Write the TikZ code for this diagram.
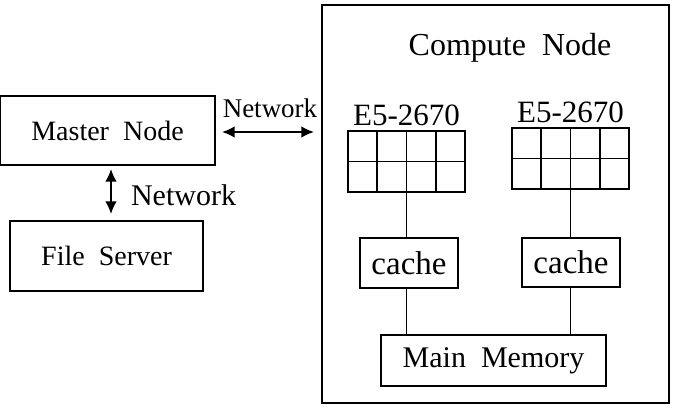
\documentclass[tikz,border=0pt]{standalone}
\usepackage{fontspec}
\setmainfont{Liberation Serif}
\usetikzlibrary{arrows.meta}
\begin{document}
\begin{tikzpicture}[x=0.5pt,y=-0.5pt,
  box/.style={draw,thick,inner sep=0pt},
  net/.style={{Latex[length=2.2mm,width=2mm]}-{Latex[length=2.2mm,width=2mm]},thick}]
\useasboundingbox (0,0) rectangle (676,411);
\draw[thick] (322,5) rectangle (669,403);
\node at (510,48) {\fontsize{16}{18}\selectfont Compute\ \ Node};
\node[box,minimum width=107.5pt,minimum height=34.5pt] (master) at (107.5,130.5) {\fontsize{14}{16}\selectfont Master\ \ Node};
\node[box,minimum width=96.5pt,minimum height=35pt] (fs) at (106.5,256) {\fontsize{14}{16}\selectfont File\ \ Server};
\coordinate (nl) at (222,132);
\coordinate (nr) at (314,132);
\draw[net] (nl) -- (nr);
\node at (270,108) {\fontsize{13.5}{15}\selectfont Network};
\draw[net] (111,169) coordinate (va) -- (111,214) coordinate (vb);
\node[anchor=west] at (124,195) {\fontsize{15}{17}\selectfont Network};
% processors
\foreach \x/\y/\n in {348/131/l,512/128/r} {
\begin{scope}[shift={(\x,\y)}]
\draw[thick] (0,0) rectangle (117,61);
\draw[thick] (0,30.5) -- (117,30.5);
\foreach \c in {1,2,3} \draw[thick] (\c*29.25,0) -- (\c*29.25,61);
\coordinate (cpu\n) at (58.5,61);
\node at (58.5,-16) {\fontsize{15.5}{17}\selectfont E5-2670};
\end{scope}
}
\node[box,minimum width=49pt,minimum height=25pt] (cachel) at (409,263) {\fontsize{16.5}{18}\selectfont cache};
\node[box,minimum width=49pt,minimum height=24.5pt] (cacher) at (571,262.5) {\fontsize{16.5}{18}\selectfont cache};
\node[box,minimum width=112.5pt,minimum height=25.5pt] (mem) at (493.5,360.5) {\fontsize{15}{17}\selectfont Main\ \ Memory};
\draw[thick] (cpul) -- (cpul |- cachel.north);
\draw[thick] (cpur) -- (cpur |- cacher.north);
\draw[thick] (cachel.south -| cpul) -- (cpul |- mem.north);
\draw[thick] (cacher.south -| cpur) -- (cpur |- mem.north);
\end{tikzpicture}
\end{document}
